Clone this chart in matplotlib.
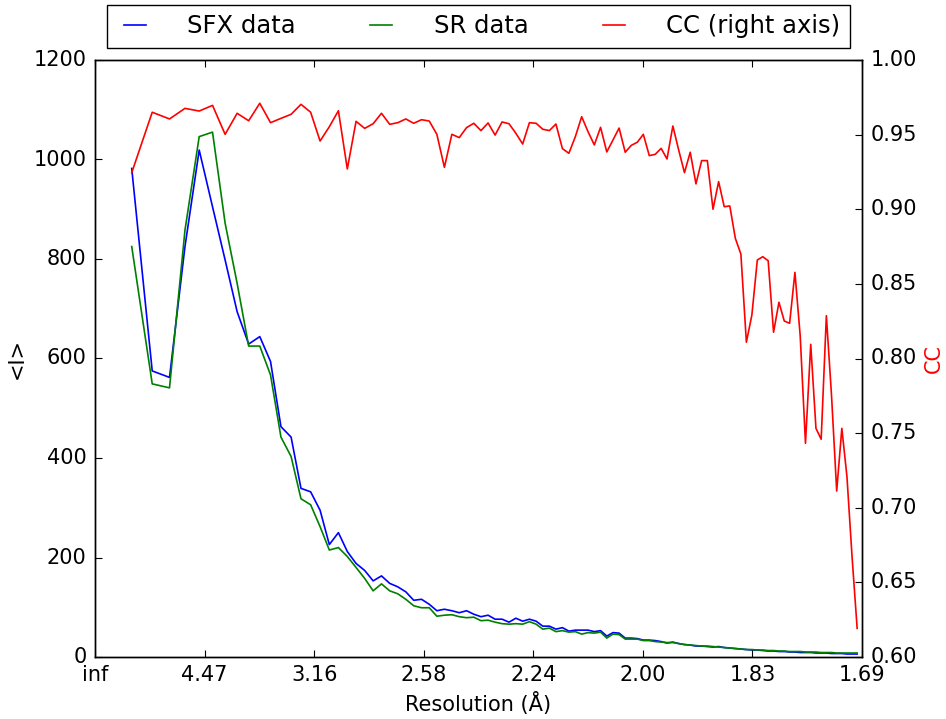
import numpy as np
import matplotlib
matplotlib.use('Agg')
from matplotlib import pyplot as plt

plt.style.use('classic')

# resolution shells of equal reciprocal volume, plotted against 1/d^2
n_shells = 100
s3_first, s3_last = 0.00217, 0.2051
inv_d2 = np.linspace(s3_first, s3_last, n_shells) ** (2.0 / 3.0)

# mean intensity per shell
sfx_I = [982, 575, 562, 825, 1019, 905, 798, 694, 629, 644,
         594, 463, 442, 339, 332, 295, 226, 250, 212, 188,
         174, 153, 163, 148, 141, 131, 114, 116, 106, 93,
         96, 93, 89, 93, 86, 81, 84, 76, 76, 70,
         78, 72, 76, 72, 62, 62, 56, 59, 52, 54,
         54, 54, 51, 53, 42, 49, 48, 38, 38, 37,
         34, 34, 33, 31, 28, 30, 27, 25, 24, 22,
         22, 21, 20, 21, 19, 18, 17, 16, 15, 14,
         14, 13, 12, 12, 11, 11, 10, 10, 9, 9,
         9, 8, 8, 8, 7, 7, 7, 6, 6, 6]

sr_I = [825, 549, 541, 858, 1046, 1055, 872, 751, 625, 625,
        567, 442, 403, 318, 306, 262, 215, 220, 202, 180,
        158, 133, 147, 133, 127, 116, 103, 99, 99, 82,
        84, 85, 81, 79, 80, 73, 74, 70, 67, 66,
        67, 66, 71, 66, 56, 58, 51, 53, 50, 51,
        46, 49, 48, 50, 38, 46, 45, 36, 36, 36,
        33, 33, 31, 30, 29, 29, 27, 25, 24, 23,
        22, 22, 21, 20, 19, 18, 17, 16, 15, 15,
        14, 14, 13, 13, 12, 12, 11, 11, 11, 10,
        10, 10, 9, 9, 9, 8, 8, 8, 8, 8]

# correlation coefficient between the two data sets
cc = [0.9245, 0.9650, 0.9605, 0.9676, 0.9658, 0.9696, 0.9502, 0.9643, 0.9593, 0.9710,
      0.9580, 0.9609, 0.9636, 0.9703, 0.9650, 0.9457, 0.9553, 0.9660, 0.9270, 0.9589,
      0.9542, 0.9573, 0.9643, 0.9569, 0.9580, 0.9605, 0.9576, 0.9600, 0.9591, 0.9502,
      0.9281, 0.9502, 0.9480, 0.9547, 0.9576, 0.9527, 0.9578, 0.9497, 0.9585, 0.9573,
      0.9509, 0.9437, 0.9580, 0.9576, 0.9536, 0.9527, 0.9571, 0.9406, 0.9375, 0.9486,
      0.9620, 0.9520, 0.9431, 0.9549, 0.9384, 0.9464, 0.9544, 0.9382, 0.9428, 0.9449,
      0.9502, 0.9359, 0.9368, 0.9408, 0.9337, 0.9558, 0.9397, 0.9245, 0.9382, 0.9170,
      0.9326, 0.9326, 0.9000, 0.9185, 0.9017, 0.9022, 0.8805, 0.8700, 0.8109, 0.8291,
      0.8660, 0.8682, 0.8655, 0.8176, 0.8377, 0.8251, 0.8236, 0.8577, 0.8151, 0.7432,
      0.8095, 0.7532, 0.7459, 0.8287, 0.7750, 0.7112, 0.7532, 0.7208, 0.6672, 0.6192]

xtick_pos = [0, 0.05, 0.1, 0.15, 0.2, 0.25, 0.3, 0.35]
xtick_labels = ['inf', '4.47', '3.16', '2.58', '2.24', '2.00', '1.83', '1.69']

plt.rcParams['font.family'] = ['DejaVu Sans']
plt.rcParams['font.size'] = 15

fig = plt.figure(figsize=(9.46, 7.19), facecolor='white')
ax = fig.add_axes([95 / 946, 62 / 719, 767 / 946, 597 / 719])
ax2 = ax.twinx()

l1, = ax.plot(inv_d2, sfx_I, color='b', lw=1.2, label='SFX data')
l2, = ax.plot(inv_d2, sr_I, color='g', lw=1.2, label='SR data')
l3, = ax2.plot(inv_d2, cc, color='r', lw=1.2, label='CC (right axis)')

ax.set_xlim(0, 0.35)
ax.set_ylim(0, 1200)
ax2.set_ylim(0.6, 1.0)
ax.set_xticks(xtick_pos)
ax.set_xticklabels(xtick_labels)
ax2.set_yticks(np.arange(0.6, 1.001, 0.05))
ax2.set_yticklabels(['%.2f' % v for v in np.arange(0.6, 1.001, 0.05)])

for a in (ax, ax2):
    a.tick_params(direction='in', length=5, width=0.8, labelsize=15, pad=6)
ax.set_xlabel('Resolution (Å)', fontsize=15)
ax.set_ylabel('<I>', fontsize=15)
ax2.set_ylabel('CC', color='r', fontsize=15)

leg = fig.legend([l1, l2, l3], ['SFX data', 'SR data', 'CC (right axis)'],
                 loc='lower left', ncol=3, mode='expand', borderaxespad=0,
                 bbox_to_anchor=(107 / 946, 671 / 719, 743 / 946, 44 / 719),
                 bbox_transform=fig.transFigure, fontsize=17.5,
                 handlelength=1.5, handletextpad=1.4, borderpad=0.4,
                 fancybox=False)
leg.get_frame().set_linewidth(1.0)

fig.savefig('out.png', dpi=100, facecolor='white')
